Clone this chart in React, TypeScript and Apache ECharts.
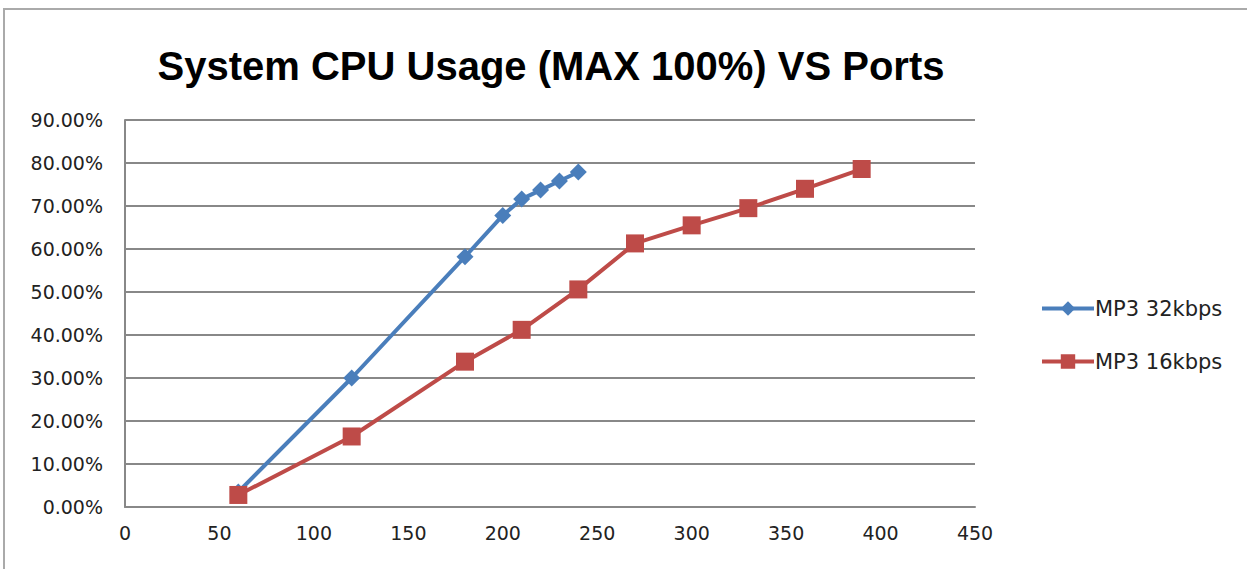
import React, { useEffect, useRef } from "react";
import * as echarts from "echarts";

const titleText = "System CPU Usage (MAX 100%) VS Ports";
const seriesNames = ["MP3 32kbps", "MP3 16kbps"];
const ports32 = [60, 120, 180, 200, 210, 220, 230, 240];
const cpu32 = [3.5, 30.0, 58.2, 67.8, 71.6, 73.7, 75.8, 77.9];
const ports16 = [60, 120, 180, 210, 240, 270, 300, 330, 360, 390];
const cpu16 = [2.8, 16.4, 33.8, 41.2, 50.6, 61.3, 65.5, 69.5, 74.0, 78.6];
const colors = ["#4a7ebb", "#be4b48"];

export default function App() {
  const ref = useRef<HTMLDivElement>(null);
  useEffect(() => {
    if (!ref.current) return;
    const chart = echarts.init(ref.current, undefined, { renderer: "svg" });
    const font = "DejaVu Sans";
    chart.setOption({
      animation: false,
      backgroundColor: "#ffffff",
      title: {
        text: titleText,
        left: 546,
        textAlign: "center",
        top: 41,
        textStyle: {
          fontFamily: "Liberation Sans",
          fontWeight: "bold",
          fontSize: 40,
          color: "#000000",
        },
      },
      graphic: [
        {
          type: "rect",
          shape: { x: 4, y: 9, width: 1400, height: 700 },
          style: { fill: "none", stroke: "#aaaaaa", lineWidth: 2 },
          silent: true,
        },
      ],
      legend: {
        orient: "vertical",
        left: 1035,
        top: 293,
        itemWidth: 52,
        itemHeight: 18,
        itemGap: 32,
        textStyle: { fontFamily: font, fontSize: 21, color: "#222222", padding: [0, 0, 0, -4] },
        lineStyle: { width: 4 },
        data: seriesNames,
      },
      grid: { left: 125, right: 272, top: 120, bottom: 62, containLabel: false },
      xAxis: {
        type: "value",
        min: 0,
        max: 450,
        interval: 50,
        axisLine: { show: true, lineStyle: { color: "#888888", width: 2 } },
        axisTick: { show: false },
        splitLine: { show: false },
        axisLabel: { fontFamily: font, fontSize: 19, color: "#222222", margin: 16 },
      },
      yAxis: {
        type: "value",
        min: 0,
        max: 90,
        interval: 10,
        axisLine: { show: true, lineStyle: { color: "#888888", width: 2 } },
        axisTick: { show: false },
        splitLine: { show: true, lineStyle: { color: "#888888", width: 2 } },
        axisLabel: {
          fontFamily: font,
          fontSize: 19,
          color: "#222222",
          margin: 22,
          formatter: (v: number) => v.toFixed(2) + "%",
        },
      },
      series: [
        {
          name: seriesNames[0],
          type: "line",
          data: ports32.map((x, i) => [x, cpu32[i]]),
          color: colors[0],
          lineStyle: { width: 4, color: colors[0] },
          symbol: "diamond",
          symbolSize: 17,
          itemStyle: { color: colors[0] },
          z: 2,
        },
        {
          name: seriesNames[1],
          type: "line",
          data: ports16.map((x, i) => [x, cpu16[i]]),
          color: colors[1],
          lineStyle: { width: 4, color: colors[1] },
          symbol: "rect",
          symbolSize: 18,
          itemStyle: { color: colors[1] },
          z: 3,
        },
      ],
    });
    return () => chart.dispose();
  }, []);
  return (
    <div
      ref={ref}
      style={{ position: "absolute", left: 0, top: 0, width: 1247, height: 569 }}
    />
  );
}
